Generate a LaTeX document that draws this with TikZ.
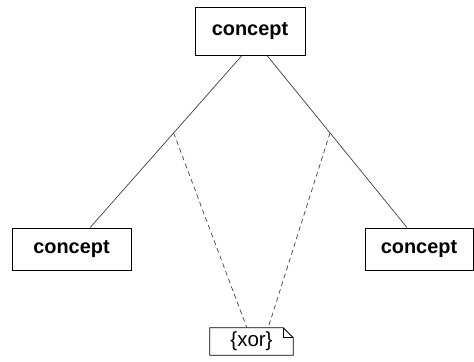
\documentclass[tikz,border=0pt]{standalone}
\usepackage{fontspec}
\setmainfont{Liberation Sans}

\begin{document}
\begin{tikzpicture}[x=0.03cm,y=-0.03cm,
		concept/.style={draw,line width=0.8pt,inner sep=0pt,minimum height=1.26cm,font=\bfseries\fontsize{17}{20}\selectfont},
		notebox/.style={inner sep=0pt,minimum width=2.49cm,minimum height=0.81cm,font=\fontsize{17.5}{20}\selectfont},
		link/.style={line width=0.6pt,black!75},
		constraint/.style={line width=0.6pt,black!75,dash pattern=on 4pt off 3pt}]
				\useasboundingbox (0,0) rectangle (474,361);
				\node[concept,minimum width=3.3cm,minimum height=1.44cm] (top) at (250,31) {concept};
				\node[concept,minimum width=3.57cm] (left) at (71.5,249) {concept};
				\node[concept,minimum width=3.24cm] (right) at (419,249) {concept};
				\node[notebox] (xor) at (251.5,341.5) {\{xor\}};
				\draw[line width=0.8pt] (xor.north west) -- ([xshift=-0.3cm]xor.north east) -- ([yshift=-0.3cm]xor.north east) -- (xor.south east) -- (xor.south west) -- cycle;
				\draw[line width=0.6pt] ([xshift=-0.3cm]xor.north east) |- ([yshift=-0.3cm]xor.north east);
				\draw[link] ([xshift=-0.24cm]top.south) -- coordinate[pos=0.45] (m1) ([xshift=0.56cm]left.north);
				\draw[link] ([xshift=0.51cm]top.south) -- coordinate[pos=0.45] (m2) ([xshift=-0.36cm]right.north);
				\draw[constraint] (m1) -- ([xshift=-0.14cm]xor.north);
				\draw[constraint] (m2) -- ([xshift=0.5cm]xor.north);
			\end{tikzpicture}
\end{document}
